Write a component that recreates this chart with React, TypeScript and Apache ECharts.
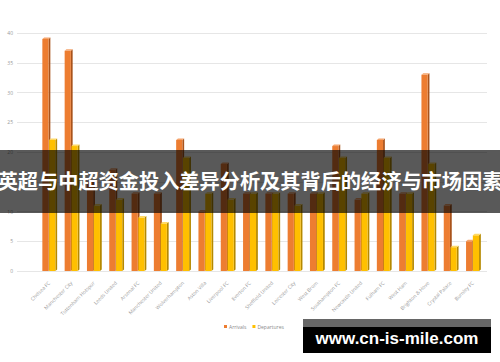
import React, { useEffect, useRef } from "react";
import * as echarts from "echarts";

const categories = [
  "Chelsea FC", "Manchester City", "Tottenham Hotspur", "Leeds United", "Arsenal FC",
  "Manchester United", "Wolverhampton", "Aston Villa", "Liverpool FC", "Everton FC",
  "Sheffield United", "Leicester City", "West Brom", "Southampton FC", "Newcastle United",
  "Fulham FC", "West Ham", "Brighton & Hove", "Crystal Palace", "Burnley FC",
];
const arrivals = [39, 37, 15, 17, 13, 13, 22, 10, 18, 13, 13, 13, 13, 21, 12, 22, 13, 33, 11, 5];
const departures = [22, 21, 11, 12, 9, 8, 19, 13, 12, 13, 13, 11, 13, 19, 13, 19, 13, 18, 4, 6];
const seriesNames = ["Arrivals", "Departures"];
const yTicks = { min: 0, max: 40, interval: 5 };
const bannerTitle = "英超与中超资金投入差异分析及其背后的经济与市场因素";
const watermark = "www.cn-is-mile.com";

const palettes = [
  { front: "#ED7D31", side: "#A9531B", top: "#F5A46C" },
  { front: "#FFC000", side: "#B58900", top: "#FFD966" },
];

function make3DRender(seriesIdx: number) {
  return (params: any, api: any) => {
    const cat = api.value(0);
    const v = api.value(1);
    const top = api.coord([cat, v]);
    const base = api.coord([cat, 0]);
    const cx = top[0];
    const w = 6.2;
    const x0 = seriesIdx === 0 ? cx - 6.8 : cx;
    const dx = 1.8;
    const dy = 1.5;
    const p = palettes[seriesIdx];
    const h = base[1] - top[1];
    return {
      type: "group",
      children: [
        {
          type: "polygon",
          shape: {
            points: [
              [x0 + w, top[1]],
              [x0 + w + dx, top[1] - dy],
              [x0 + w + dx, base[1] - dy],
              [x0 + w, base[1]],
            ],
          },
          style: { fill: p.side },
        },
        {
          type: "rect",
          shape: { x: x0, y: top[1], width: w, height: h },
          style: { fill: p.front },
        },
        {
          type: "polygon",
          shape: {
            points: [
              [x0, top[1]],
              [x0 + dx, top[1] - dy],
              [x0 + w + dx, top[1] - dy],
              [x0 + w, top[1]],
            ],
          },
          style: { fill: p.top },
        },
      ],
    };
  };
}

export default function App() {
  const ref = useRef<HTMLDivElement>(null);
  useEffect(() => {
    document.body.style.margin = "0";
    const chart = echarts.init(ref.current!, undefined, { renderer: "svg" });
    const top = 33;
    const bottom = 91;
    chart.setOption({
      animation: false,
      backgroundColor: "#ffffff",
      textStyle: { fontFamily: "'Open Sans', 'Noto Sans', sans-serif" },
      grid: [
        { left: 17, right: 13, top, bottom },
        { left: 38, right: 16, top, bottom },
      ],
      xAxis: [
        { type: "value", gridIndex: 0, min: 0, max: 1, show: false },
        {
          type: "category",
          gridIndex: 1,
          data: categories,
          axisLine: { show: false },
          axisTick: { show: false },
          axisLabel: {
            rotate: 45,
            fontSize: 5,
            color: "#9a9a9a",
            margin: 11,
            interval: 0,
          },
        },
      ],
      yAxis: [
        {
          type: "value",
          gridIndex: 0,
          min: yTicks.min,
          max: yTicks.max,
          interval: yTicks.interval,
          axisLine: { show: false },
          axisTick: { show: false },
          axisLabel: { fontSize: 5, color: "#9a9a9a", margin: 4, padding: [8, 0, 0, 0] },
          splitLine: { lineStyle: { color: "#e6e6e6", width: 1 } },
        },
        {
          type: "value",
          gridIndex: 1,
          min: yTicks.min,
          max: yTicks.max,
          interval: yTicks.interval,
          show: false,
          splitLine: { show: false },
        },
      ],
      legend: {
        data: seriesNames,
        top: 319,
        left: 219,
        icon: "rect",
        itemWidth: 3,
        itemHeight: 3,
        itemGap: 6,
        textStyle: { fontSize: 5, color: "#8a8a8a", padding: [0, 0, 0, -3] },
      },
      series: [
        { type: "scatter", xAxisIndex: 0, yAxisIndex: 0, data: [], silent: true },
        {
          name: seriesNames[0],
          type: "custom",
          xAxisIndex: 1,
          yAxisIndex: 1,
          itemStyle: { color: palettes[0].front },
          renderItem: make3DRender(0),
          encode: { x: 0, y: 1 },
          data: arrivals.map((v, i) => [i, v]),
        },
        {
          name: seriesNames[1],
          type: "custom",
          xAxisIndex: 1,
          yAxisIndex: 1,
          itemStyle: { color: palettes[1].front },
          renderItem: make3DRender(1),
          encode: { x: 0, y: 1 },
          data: departures.map((v, i) => [i, v]),
        },
      ],
      graphic: [
        {
          type: "rect",
          z: 100,
          shape: { x: 0, y: 150, width: 500, height: 63 },
          style: { fill: "rgba(0,0,0,0.65)" },
        },
        {
          type: "text",
          z: 101,
          x: 250,
          y: 180,
          style: {
            text: bannerTitle,
            fill: "#ffffff",
            fontSize: 20.2,
            fontWeight: "bold",
            fontFamily: "Noto Sans CJK SC",
            align: "center",
            verticalAlign: "middle",
          },
        },
        {
          type: "rect",
          z: 100,
          shape: { x: 303, y: 319, width: 188, height: 9 },
          style: { fill: "#666666" },
        },
        {
          type: "rect",
          z: 100,
          shape: { x: 303, y: 327, width: 188, height: 26 },
          style: { fill: "#000000" },
        },
        {
          type: "text",
          z: 101,
          x: 397,
          y: 338,
          style: {
            text: watermark,
            fill: "#ffffff",
            fontSize: 17,
            fontWeight: "bold",
            fontFamily: "Liberation Sans",
            align: "center",
            verticalAlign: "middle",
          },
        },
      ],
    });
    return () => chart.dispose();
  }, []);
  return <div ref={ref} style={{ width: 500, height: 362 }} />;
}
